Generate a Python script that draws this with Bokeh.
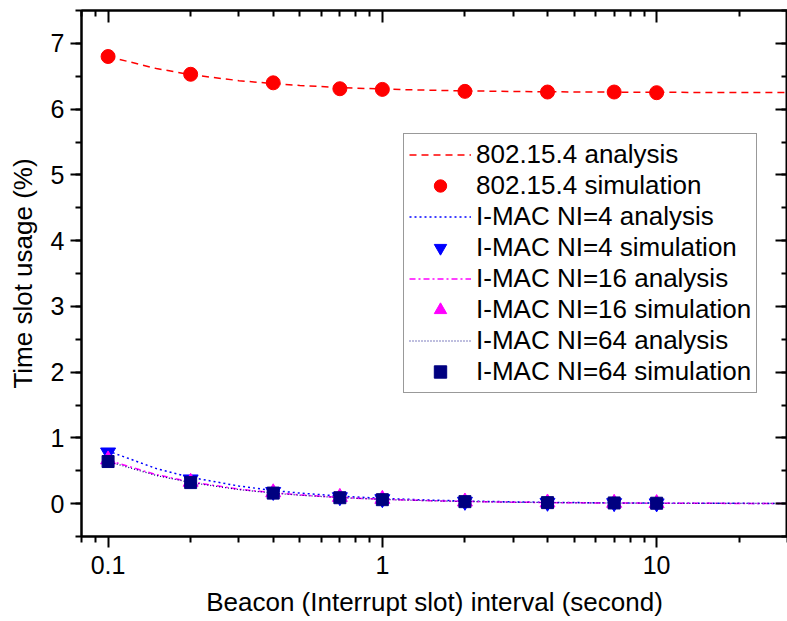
from bokeh.plotting import figure
from bokeh.models import (LogAxis, LinearAxis, FixedTicker, SingleIntervalTicker,
                          Legend, LegendItem, Range1d)
from bokeh.embed import file_html
from bokeh.resources import INLINE

# ---- data ----
x_sim = [0.1, 0.2, 0.4, 0.7, 1, 2, 4, 7, 10]
ieee_sim = [6.80, 6.53, 6.40, 6.31, 6.30, 6.27, 6.26, 6.26, 6.25]
ni4_sim = [0.78, 0.37, 0.18, 0.10, 0.07, 0.03, 0.015, 0.01, 0.006]
ni16_sim = [0.67, 0.33, 0.17, 0.10, 0.07, 0.03, 0.015, 0.01, 0.006]
ni64_sim = [0.64, 0.32, 0.16, 0.09, 0.06, 0.03, 0.015, 0.01, 0.006]

x_ana = [0.1, 0.15, 0.2, 0.3, 0.4, 0.5, 0.7, 1, 1.5, 2, 3, 4, 5, 7, 10, 15, 20, 30]
ieee_ana = [6.80, 6.617, 6.525, 6.433, 6.388, 6.36, 6.329, 6.305, 6.287, 6.278,
            6.268, 6.264, 6.261, 6.258, 6.256, 6.254, 6.253, 6.252]
ni4_ana = [0.80, 0.533, 0.40, 0.267, 0.20, 0.16, 0.114, 0.08, 0.053, 0.04,
           0.027, 0.02, 0.016, 0.011, 0.008, 0.005, 0.004, 0.003]
ni16_ana = [0.66, 0.44, 0.33, 0.22, 0.165, 0.132, 0.094, 0.066, 0.044, 0.033,
            0.022, 0.0165, 0.013, 0.009, 0.0066, 0.0044, 0.0033, 0.0022]
ni64_ana = [0.64, 0.427, 0.32, 0.213, 0.16, 0.128, 0.091, 0.064, 0.043, 0.032,
            0.021, 0.016, 0.013, 0.009, 0.0064, 0.0043, 0.0032, 0.0021]

x_major = [0.1, 1, 10]
x_tick_labels = ["0.1", "1", "10"]
x_minor = [0.08, 0.09, 0.2, 0.3, 0.4, 0.5, 0.6, 0.7, 0.8, 0.9,
           2, 3, 4, 5, 6, 7, 8, 9, 20, 30]

labels = ["802.15.4 analysis", "802.15.4 simulation",
          "I-MAC NI=4 analysis", "I-MAC NI=4 simulation",
          "I-MAC NI=16 analysis", "I-MAC NI=16 simulation",
          "I-MAC NI=64 analysis", "I-MAC NI=64 simulation"]

FONT = "Liberation Sans"
FS_TICK = "25px"
FS = "26px"

p = figure(width=787, height=621, x_axis_type="log",
           x_range=Range1d(0.08, 30), y_range=Range1d(-0.5, 7.5),
           output_backend="svg", toolbar_location=None,
           min_border_left=81, min_border_right=0, min_border_top=10,
           min_border_bottom=85)
p.grid.visible = False
p.outline_line_color = "black"
p.outline_line_width = 2
p.background_fill_color = "white"
p.border_fill_color = "white"

xt = FixedTicker(ticks=x_major, minor_ticks=x_minor)
yt = SingleIntervalTicker(interval=1, num_minor_ticks=2)

xa = p.xaxis[0]
xa.ticker = xt
xa.major_label_overrides = {v: s for v, s in zip(x_major, x_tick_labels)}
xa.axis_label = "Beacon (Interrupt slot) interval (second)"
ya = p.yaxis[0]
ya.ticker = yt
ya.axis_label = "Time slot usage (%)"

for ax in (xa, ya):
    ax.axis_line_width = 2
    ax.axis_line_color = "black"
    ax.major_tick_line_width = 2
    ax.major_tick_line_color = "black"
    ax.minor_tick_line_width = 2
    ax.minor_tick_line_color = "black"
    ax.major_tick_out = 11
    ax.major_tick_in = 0
    ax.minor_tick_out = 6
    ax.minor_tick_in = 0
    ax.major_label_text_font = FONT
    ax.major_label_text_font_size = FS_TICK
    ax.major_label_text_color = "black"
    ax.axis_label_text_font = FONT
    ax.axis_label_text_font_size = FS
    ax.axis_label_text_font_style = "normal"
    ax.axis_label_text_color = "black"
xa.major_label_standoff = 8
xa.axis_label_standoff = 10
ya.major_label_standoff = 6
ya.axis_label_standoff = 10

top = LogAxis(ticker=xt, major_label_text_font_size="0px", major_label_standoff=0,
              major_tick_in=12, major_tick_out=0, minor_tick_in=6, minor_tick_out=0,
              axis_line_width=2, major_tick_line_width=2, minor_tick_line_width=2,
              axis_line_color="black", major_tick_line_color="black",
              minor_tick_line_color="black")
top.major_label_overrides = {v: "" for v in x_major}
right = LinearAxis(ticker=yt, major_label_text_font_size="0px", major_label_standoff=0,
                   major_tick_in=12, major_tick_out=0, minor_tick_in=6, minor_tick_out=0,
                   axis_line_width=2, major_tick_line_width=2, minor_tick_line_width=2,
                   axis_line_color="black", major_tick_line_color="black",
                   minor_tick_line_color="black")
right.major_label_overrides = {i: "" for i in range(-1, 9)}
p.add_layout(top, "above")
p.add_layout(right, "right")

r1 = p.line(x_ana, ieee_ana, line_color="#FF0000", line_width=1.5, line_dash="7 5")
r2 = p.scatter(x_sim, ieee_sim, marker="circle", size=14, fill_color="#FF0000",
               line_color="#FF0000")
r3 = p.line(x_ana, ni4_ana, line_color="#0000FF", line_width=1.5, line_dash="2 3")
r4 = p.scatter(x_sim, ni4_sim, marker="inverted_triangle", size=15,
               fill_color="#0000FF", line_color="#0000FF")
r5 = p.line(x_ana, ni16_ana, line_color="#FF00FF", line_width=1.5, line_dash="6 3 2 3")
r6 = p.scatter(x_sim, ni16_sim, marker="triangle", size=15,
               fill_color="#FF00FF", line_color="#FF00FF")
r7 = p.line(x_ana, ni64_ana, line_color="#000080", line_width=1.2, line_dash="1 2")
r8 = p.scatter(x_sim, ni64_sim, marker="square", size=12,
               fill_color="#000080", line_color="#000080")

items = [LegendItem(label=l, renderers=[r]) for l, r in
         zip(labels, [r1, r2, r3, r4, r5, r6, r7, r8])]
legend = Legend(items=items, location=(322, 143),
                label_text_font=FONT, label_text_font_size=FS,
                label_text_color="black",
                glyph_width=62, glyph_height=31, label_height=31,
                label_standoff=5, spacing=0, padding=5, margin=0,
                border_line_color="#333333", border_line_width=1,
                background_fill_color="white", background_fill_alpha=1)
p.add_layout(legend, "center")

open("out.html", "w").write(file_html(p, INLINE))
